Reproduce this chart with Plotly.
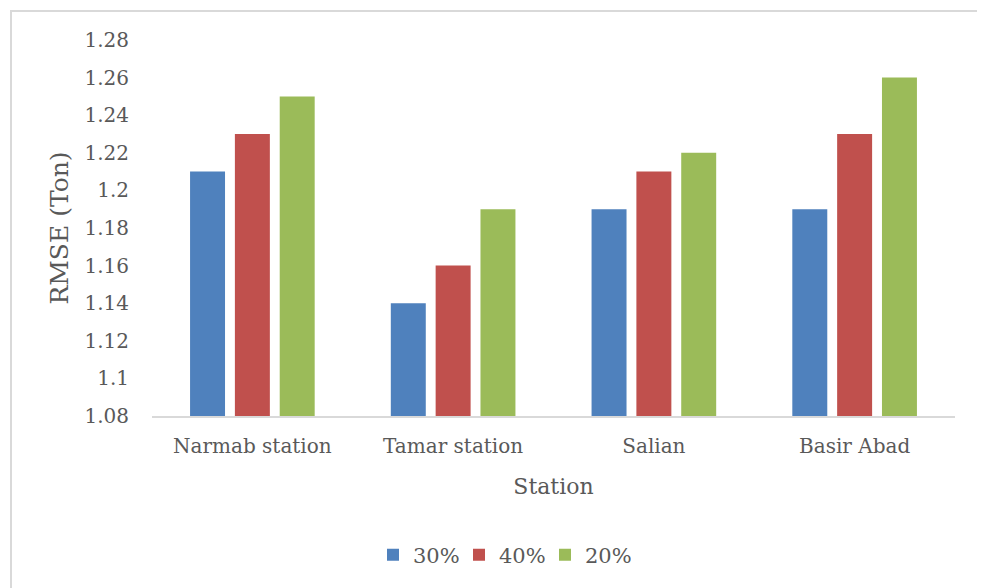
import plotly.graph_objects as go

stations = ["Narmab station", "Tamar station", "Salian", "Basir Abad"]
series_names = ["30%", "40%", "20%"]
v30 = [1.21, 1.14, 1.19, 1.19]
v40 = [1.23, 1.16, 1.21, 1.23]
v20 = [1.25, 1.19, 1.22, 1.26]
colors = ["#4f81bd", "#c0504d", "#9bbb59"]
ytick_vals = [1.08, 1.10, 1.12, 1.14, 1.16, 1.18, 1.20, 1.22, 1.24, 1.26, 1.28]
ytick_text = ["1.08", "1.1", "1.12", "1.14", "1.16", "1.18", "1.2", "1.22", "1.24", "1.26", "1.28"]

FONT = "DejaVu Serif"
TXT = "#595959"

fig = go.Figure()
for name, vals, c in zip(series_names, [v30, v40, v20], colors):
    fig.add_trace(go.Bar(x=stations, y=vals, name=name, marker=dict(color=c, line=dict(width=0))))

# page is offset by 8px body margin; work in page pixel coords
OFF = 8
W, H = 985, 588
plot_left, plot_right, plot_top, plot_bottom = 152, 955, 40, 416
L = plot_left - OFF
T = plot_top - OFF
R = W - (plot_right - OFF)
B = H - (plot_bottom - OFF)
pw = W - L - R
ph = H - T - B

def px_to_paper_x(px):
    return (px - OFF - L) / pw

def px_to_paper_y(py):
    return (H - B - (py - OFF)) / ph

fig.add_shape(type="rect", xref="paper", yref="paper",
              x0=px_to_paper_x(11), x1=px_to_paper_x(984),
              y0=px_to_paper_y(640), y1=px_to_paper_y(11),
              line=dict(color="#d9d9d9", width=2), fillcolor="rgba(0,0,0,0)", layer="below")

fig.update_layout(
    width=W, height=H,
    margin=dict(l=L, r=R, t=T, b=B),
    paper_bgcolor="white", plot_bgcolor="white",
    barmode="group", bargap=0.33, bargroupgap=0.22,
    font=dict(family=FONT, color=TXT, size=20),
    showlegend=True,
    legend=dict(orientation="h", x=px_to_paper_x(502), xanchor="center", y=px_to_paper_y(555), yanchor="middle",
                font=dict(family=FONT, size=21, color=TXT), itemwidth=30, traceorder="normal",
                entrywidth=41, entrywidthmode="pixels"),
    xaxis=dict(showline=True, linecolor="#d9d9d9", linewidth=2, showgrid=False, zeroline=False,
               ticks="outside", ticklen=11, tickcolor="rgba(0,0,0,0)",
               tickfont=dict(family=FONT, size=20, color=TXT),
               title=dict(text="Station", font=dict(family=FONT, size=22, color=TXT), standoff=22)),
    yaxis=dict(range=[1.08, 1.28], tickvals=ytick_vals, ticktext=ytick_text,
               showline=False, showgrid=False, zeroline=False,
               ticks="outside", ticklen=18, tickcolor="rgba(0,0,0,0)",
               tickfont=dict(family=FONT, size=20, color=TXT),
               title=dict(text="RMSE (Ton)", font=dict(family=FONT, size=25, color=TXT), standoff=8)),
)

fig.write_html("out.html")
